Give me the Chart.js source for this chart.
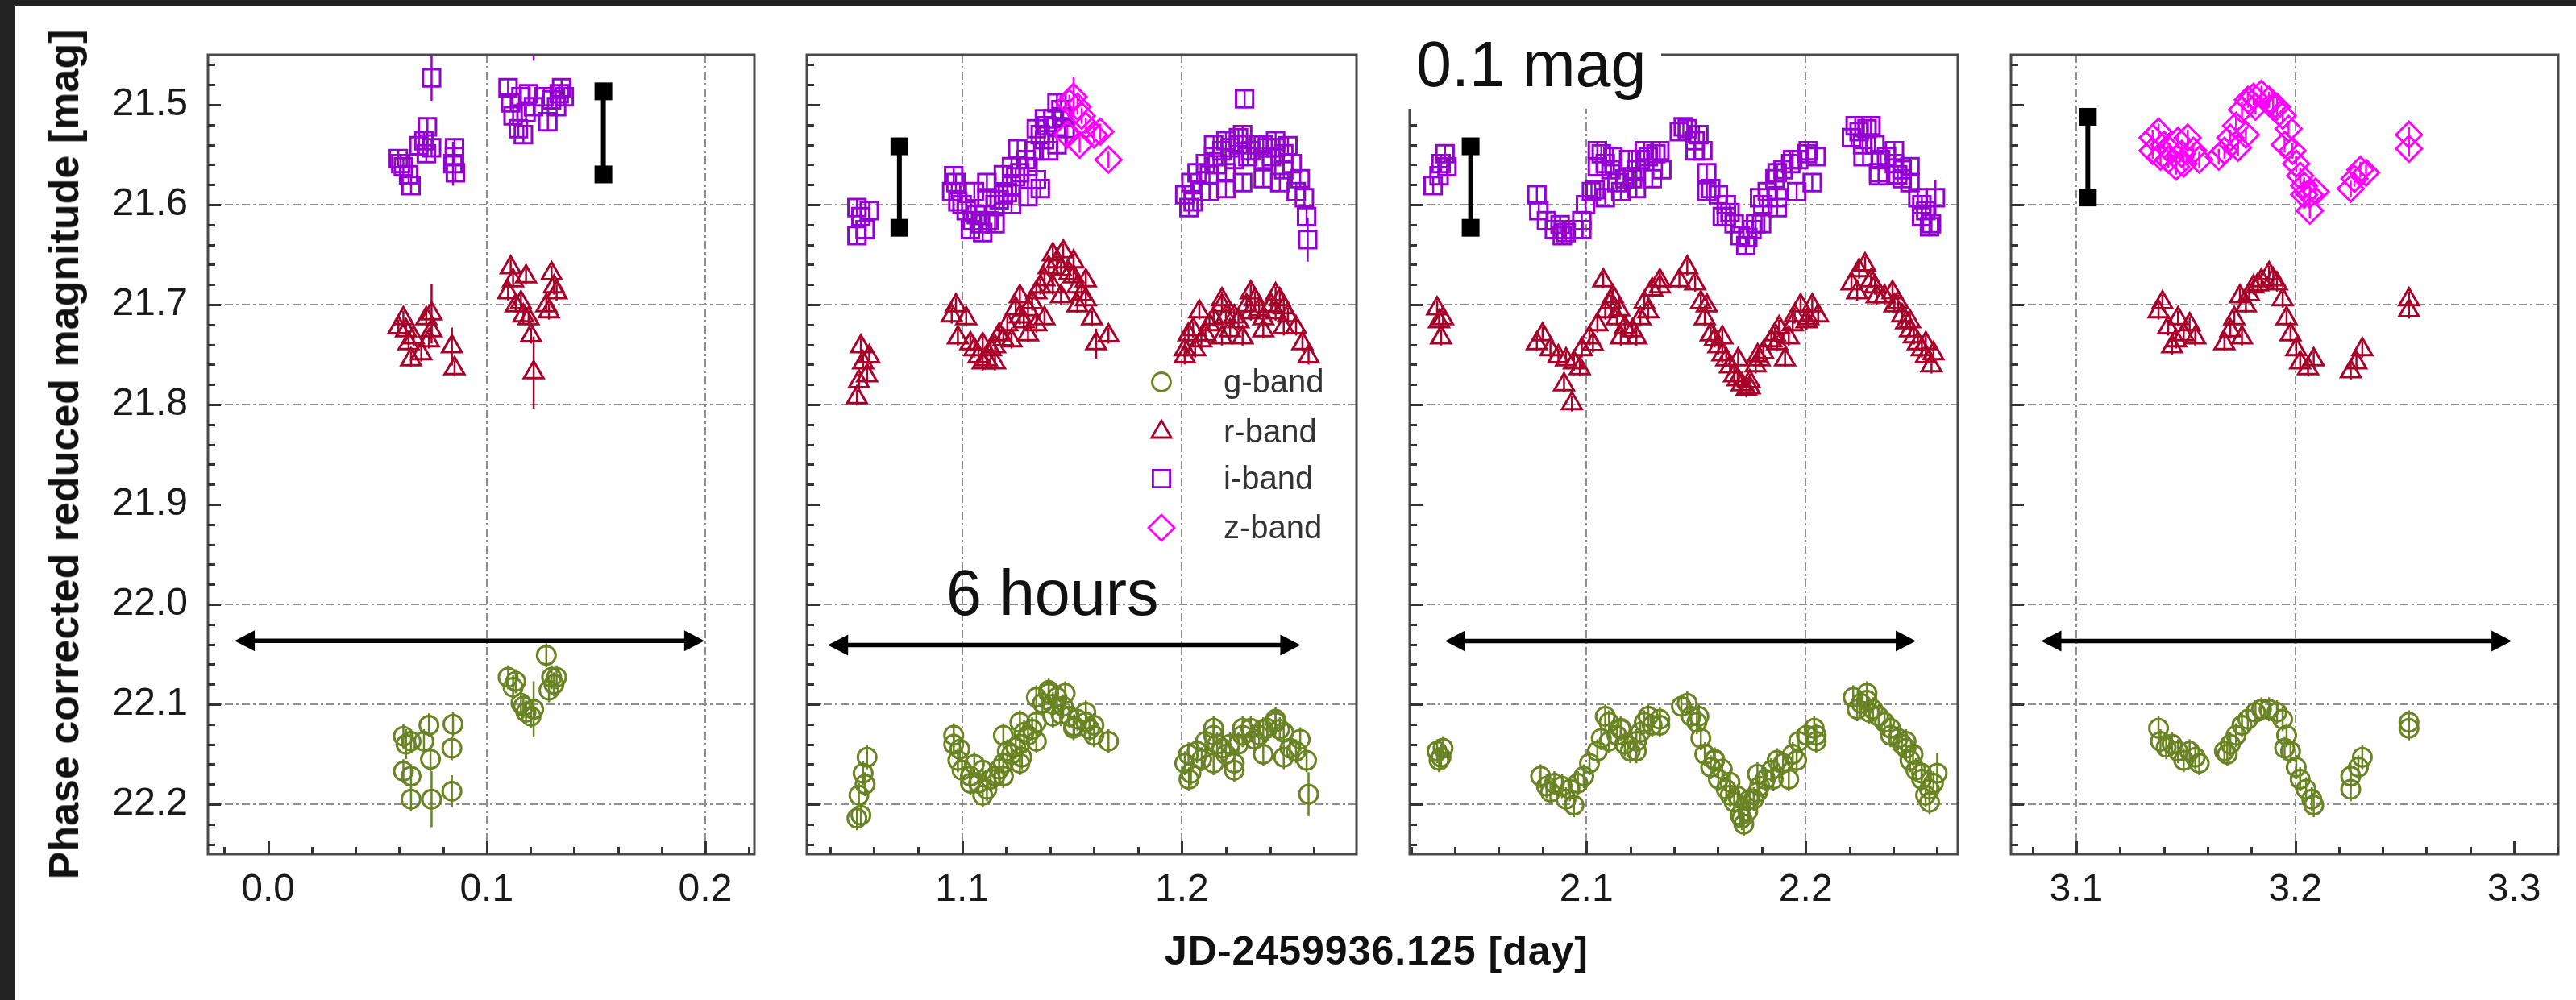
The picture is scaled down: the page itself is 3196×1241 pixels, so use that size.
<!DOCTYPE html>
<html>
<head>
<meta charset="utf-8">
<script src="https://cdn.jsdelivr.net/npm/chart.js@4.4.0/dist/chart.umd.min.js"></script>
<style>
  body { margin: 0; background: #fff; }
  #fig { position: relative; width: 3196px; height: 1241px; background: #fff; overflow: hidden; font-family: "Liberation Sans", Arial, sans-serif; color: #111; }
  #fig canvas { position: absolute; top: 0; }
  .edge-top { position: absolute; left: 0; top: 0; width: 3196px; height: 7px; background: #222; }
  .edge-left { position: absolute; left: 0; top: 0; width: 19px; height: 1241px; background: #222; }
  .ytitle { position: absolute; left: 79px; top: 564px; transform: translate(-50%, -50%) rotate(-90deg); white-space: nowrap; font-weight: bold; font-size: 52px; line-height: 1; }
  .xtitle { position: absolute; left: 1708px; top: 1180px; transform: translate(-50%, -50%); white-space: nowrap; font-weight: bold; font-size: 50px; line-height: 1; letter-spacing: 1px; }
  .note { position: absolute; white-space: nowrap; font-size: 79px; line-height: 79px; }
  .magbox { position: absolute; left: 1740px; top: 8px; width: 321px; height: 127px; background: #fff; }
</style>
</head>
<body>
<div id="fig">
  <canvas id="panel1" width="940" height="1241" style="left:20px"></canvas>
  <canvas id="panel2" width="730" height="1241" style="left:975px"></canvas>
  <canvas id="panel3" width="725" height="1241" style="left:1725px"></canvas>
  <canvas id="panel4" width="726" height="1241" style="left:2470px"></canvas>
  <div class="ytitle">Phase corrected reduced magnitude [mag]</div>
  <div class="xtitle">JD-2459936.125 [day]</div>
  <div class="note" style="left:1174px; top:696px">6 hours</div>
  <div class="magbox"></div>
  <div class="note" style="left:1757px; top:40px">0.1 mag</div>
  <div class="edge-top"></div>
  <div class="edge-left"></div>
</div>
<script>
// ---- datos: [dia, magnitud, error opcional] ----
const gBand1 = [
  [0.0619,22.132],[0.0631,22.140,0.015],[0.0654,22.137],[0.0619,22.167],[0.0654,22.172],[0.0654,22.195],[0.0713,22.137],
  [0.0736,22.121],[0.0743,22.155],[0.0748,22.195,0.028],[0.0846,22.120],[0.0841,22.144],[0.0841,22.187,0.016],
  [0.1098,22.073],[0.1121,22.083],[0.1133,22.077],[0.1157,22.099],[0.1180,22.108],[0.1203,22.112],[0.1168,22.102],[0.1215,22.105,0.028],
  [0.1273,22.051],[0.1297,22.073],[0.1308,22.080],[0.1320,22.073],[0.1285,22.086]
];
const rBand1 = [
  [0.0619,21.714],[0.0631,21.726],[0.0643,21.739],[0.0654,21.755],[0.0596,21.723],[0.0666,21.733],
  [0.0701,21.749],[0.0724,21.714],[0.0748,21.709,0.03],[0.0748,21.726],[0.0736,21.736],
  [0.0841,21.742,0.019],[0.0853,21.764],
  [0.1110,21.663],[0.1121,21.676],[0.1098,21.688],[0.1133,21.701],[0.1157,21.698],[0.1168,21.711],[0.1180,21.672],[0.1192,21.714],
  [0.1203,21.731],[0.1215,21.768,0.036],
  [0.1297,21.669],[0.1308,21.682],[0.1285,21.707],[0.1320,21.688],[0.1273,21.701]
];
const iBand1 = [
  [0.0596,21.554],[0.0619,21.562],[0.0643,21.570],[0.0654,21.581],[0.0607,21.559],
  [0.0729,21.522],[0.0713,21.536],[0.0748,21.543],[0.0724,21.549],[0.0690,21.541],
  [0.0748,21.473,0.023],
  [0.0853,21.543],[0.0846,21.559,0.022],[0.0857,21.568],[0.0853,21.552],
  [0.1098,21.483],[0.1110,21.498],[0.1121,21.511],[0.1145,21.524],[0.1168,21.530],[0.1157,21.492],[0.1192,21.489],[0.1180,21.508],[0.1215,21.502],
  [0.1215,21.430,0.026],
  [0.1262,21.492],[0.1297,21.495],[0.1332,21.489],[0.1355,21.492],[0.1280,21.517],[0.1320,21.502],[0.1343,21.483]
];

const gBand2 = [
  [1.0522,22.214],[1.0531,22.191],[1.0550,22.169],[1.0568,22.153],[1.0540,22.211],[1.0559,22.180],
  [1.0962,22.140],[1.0981,22.156],[1.1000,22.166],[1.1038,22.172],[1.1075,22.179],[1.1113,22.185],[1.1150,22.172],[1.1188,22.159],
  [1.1225,22.150],[1.1263,22.140],[1.1272,22.153],[1.1300,22.131],[1.1338,22.118],[1.1366,22.099],[1.1394,22.089],[1.1432,22.093],
  [1.1460,22.102],[1.1488,22.112],[1.1525,22.115],[1.1563,22.118],[1.1600,22.121],[1.1666,22.137],[1.1094,22.166],[1.1206,22.147],
  [1.0990,22.145],[1.1056,22.160],[1.1130,22.175],[1.1169,22.165],[1.1244,22.143],[1.1282,22.128],[1.1319,22.125],[1.1413,22.100],
  [1.1450,22.110],[1.1510,22.122],[1.1580,22.125],
  [1.0962,22.131],[1.1188,22.131],[1.1263,22.118],[1.1338,22.093],[1.1394,22.086],[1.1469,22.089],[1.1563,22.108],
  [1.1038,22.179],[1.1094,22.191],[1.1188,22.172],[1.1263,22.159],[1.1338,22.137],[1.1413,22.112],[1.1507,22.124],[1.1600,22.131],
  [1.2013,22.159],[1.2041,22.169],[1.2069,22.147],[1.2107,22.137],[1.2144,22.131],[1.2182,22.144],[1.2219,22.140],[1.2238,22.159],
  [1.2276,22.131],[1.2313,22.124],[1.2351,22.131],[1.2388,22.124],[1.2426,22.118],[1.2463,22.128],[1.2491,22.144],[1.2519,22.147],
  [1.2567,22.156],[1.2576,22.190,0.022],[1.2030,22.150],[1.2090,22.155],[1.2160,22.140],[1.2200,22.150],[1.2257,22.140],[1.2330,22.135],
  [1.2370,22.125],[1.2445,22.125],[1.2538,22.135],
  [1.2144,22.124],[1.2276,22.124],[1.2426,22.115],[1.2032,22.175],[1.2144,22.159],[1.2238,22.166],[1.2370,22.150],[1.2463,22.153]
];
const rBand2 = [
  [1.0540,21.742],[1.0550,21.758],[1.0531,21.777],[1.0522,21.793],[1.0578,21.752],[1.0568,21.771],
  [1.0953,21.711],[1.0972,21.701],[1.0981,21.733],[1.1019,21.714],[1.1038,21.739],[1.1075,21.752],[1.1113,21.755],[1.1150,21.742],
  [1.1169,21.730],[1.1206,21.720],[1.1244,21.704],[1.1281,21.717],[1.1319,21.698],[1.1356,21.682],[1.1394,21.663],[1.1432,21.657],
  [1.1460,21.647],[1.1488,21.669],[1.1525,21.682],[1.1563,21.695],[1.1591,21.714],[1.1610,21.739,0.015],[1.1666,21.731],[1.1338,21.720],
  [1.1413,21.682],[1.1056,21.745],[1.1094,21.740],[1.1131,21.745],[1.1188,21.735],[1.1263,21.712],[1.1300,21.705],[1.1375,21.675],
  [1.1450,21.665],[1.1507,21.672],[1.1544,21.690],
  [1.1263,21.692],[1.1338,21.688],[1.1413,21.650],[1.1507,21.657],[1.1563,21.676],
  [1.1094,21.758],[1.1150,21.758],[1.1225,21.736],[1.1300,21.730],[1.1375,21.714],[1.1450,21.692],[1.1525,21.701],
  [1.2013,21.745],[1.2051,21.725],[1.2079,21.707],[1.2107,21.730],[1.2144,21.714],[1.2182,21.701],[1.2219,21.726],[1.2257,21.717],
  [1.2294,21.701],[1.2332,21.695],[1.2370,21.714],[1.2407,21.701],[1.2445,21.695],[1.2482,21.711],[1.2519,21.723],[1.2548,21.739],
  [1.2576,21.752],[1.2060,21.745],[1.2030,21.730],[1.2125,21.720],[1.2200,21.712],[1.2238,21.712],[1.2313,21.708],[1.2351,21.705],
  [1.2426,21.708],[1.2463,21.703],
  [1.2182,21.695],[1.2313,21.688],[1.2426,21.690],[1.2013,21.752],[1.2088,21.736],[1.2182,21.733],[1.2276,21.733],[1.2370,21.726],
  [1.2463,21.723]
];
const iBand2 = [
  [1.0522,21.603],[1.0540,21.612],[1.0522,21.631],[1.0578,21.606],[1.0559,21.625],
  [1.0953,21.587],[1.0972,21.578],[1.0981,21.597],[1.1019,21.606],[1.1047,21.616],[1.1084,21.619],[1.1122,21.616],[1.1150,21.600],
  [1.1188,21.590],[1.1225,21.581],[1.1263,21.568],[1.1291,21.555],[1.1328,21.546],[1.1356,21.530],[1.1385,21.521],[1.1413,21.514],
  [1.1450,21.505],[1.1469,21.524],[1.1338,21.575],[1.1225,21.562],[1.1113,21.593],[1.1000,21.600],[1.1065,21.610],[1.1169,21.595],
  [1.1206,21.588],[1.1244,21.572],[1.1300,21.562],[1.1375,21.535],[1.1430,21.522],[1.1460,21.512],
  [1.0962,21.571],[1.1056,21.587],[1.1113,21.578],[1.1188,21.570],[1.1253,21.544],[1.1338,21.524],[1.1375,21.514],[1.1432,21.498],
  [1.1038,21.625],[1.1094,21.628],[1.1150,21.619],[1.1225,21.600],[1.1300,21.592],[1.1356,21.584],[1.1394,21.546],[1.1432,21.540],
  [1.2013,21.590],[1.2041,21.578],[1.2069,21.568],[1.2107,21.559],[1.2144,21.552],[1.2182,21.546],[1.2219,21.543],[1.2257,21.540],
  [1.2276,21.530],[1.2285,21.494],[1.2313,21.546],[1.2351,21.540],[1.2388,21.543],[1.2426,21.543],[1.2463,21.549],[1.2501,21.559],
  [1.2538,21.574],[1.2557,21.593],[1.2567,21.612],[1.2572,21.635,0.022],[1.2032,21.603],[1.2088,21.587],[1.2200,21.568],[1.2370,21.555],
  [1.2463,21.565],[1.2125,21.570],[1.2160,21.560],[1.2238,21.555],[1.2300,21.552],[1.2407,21.552],
  [1.2144,21.540],[1.2200,21.536],[1.2257,21.533],[1.2370,21.540],[1.2426,21.536],[1.2482,21.541],
  [1.2051,21.597],[1.2126,21.587],[1.2200,21.584],[1.2276,21.578],[1.2370,21.574],[1.2445,21.578],[1.2520,21.587]
];
const zBand2 = [
  [1.1488,21.498],[1.1507,21.492,0.02],[1.1525,21.502],[1.1544,21.511],[1.1563,21.521],[1.1600,21.530],[1.1478,21.530],
  [1.1535,21.540],[1.1629,21.527],[1.1666,21.555]
];

const gBand3 = [
  [2.0319,22.147],[2.0328,22.156],[2.0346,22.144],[2.0337,22.153],
  [2.0791,22.172],[2.0818,22.182],[2.0854,22.179],[2.0889,22.182],[2.0925,22.185],[2.0943,22.201],[2.0961,22.179],[2.0988,22.172],
  [2.1014,22.159],[2.1050,22.147],[2.1068,22.134],[2.1086,22.112],[2.1103,22.118],[2.1139,22.131],[2.1175,22.140],[2.1200,22.147],
  [2.1228,22.137],[2.1264,22.118],[2.1300,22.121],[2.1335,22.121],[2.1103,22.137],[2.1157,22.125],[2.1246,22.128],[2.1282,22.112],
  [2.0836,22.188],[2.0907,22.195],[2.1157,22.124],[2.1228,22.147],[2.1335,22.115],
  [2.1433,22.102],[2.1460,22.099],[2.1478,22.112],[2.1504,22.118],[2.1522,22.134],[2.1540,22.150],[2.1567,22.163],[2.1602,22.175],
  [2.1638,22.185],[2.1674,22.198],[2.1701,22.211],[2.1718,22.220],[2.1736,22.207],[2.1763,22.195],[2.1790,22.182],[2.1816,22.175],
  [2.1843,22.166],[2.1870,22.156],[2.1897,22.159],[2.1923,22.175],[2.1941,22.150],[2.1968,22.137],[2.2004,22.131],[2.2039,22.124],
  [2.2048,22.137],[2.1585,22.155],[2.1620,22.165],[2.1655,22.178],[2.1690,22.192],[2.1745,22.195],[2.1780,22.170],
  [2.1513,22.112],[2.1585,22.156],[2.1656,22.191],[2.1709,22.214],[2.1781,22.188],[2.1852,22.175],[2.1959,22.156],[2.2048,22.131],
  [2.2217,22.093],[2.2253,22.099],[2.2280,22.096],[2.2307,22.105],[2.2333,22.112],[2.2360,22.118],[2.2387,22.124],[2.2422,22.134],
  [2.2458,22.144],[2.2476,22.156],[2.2503,22.166],[2.2529,22.175],[2.2547,22.191],[2.2565,22.198],[2.2583,22.179],[2.2600,22.169,0.02],
  [2.2235,22.105],[2.2290,22.108],[2.2440,22.140],[2.2490,22.150],
  [2.2280,22.089],[2.2387,22.131],[2.2458,22.137],[2.2529,22.169],[2.2565,22.185]
];
const rBand3 = [
  [2.0319,21.704],[2.0328,21.717],[2.0337,21.733],[2.0346,21.714],
  [2.0774,21.739],[2.0800,21.730],[2.0836,21.745],[2.0872,21.752],[2.0907,21.755],[2.0943,21.758],[2.0970,21.764],[2.0898,21.780],
  [2.0934,21.799],[2.0979,21.745],[2.1014,21.733],[2.1050,21.720],[2.1077,21.676],[2.1086,21.707],[2.1112,21.698],[2.1139,21.714],
  [2.1175,21.723],[2.1210,21.726],[2.1246,21.714],[2.1264,21.698],[2.1300,21.685],[2.1335,21.682],[2.1282,21.707],[2.1030,21.740],
  [2.1150,21.705],[2.1157,21.733],[2.1228,21.733],[2.1121,21.692],[2.1335,21.676],
  [2.1424,21.676],[2.1460,21.663],[2.1496,21.679],[2.1522,21.698],[2.1540,21.714],[2.1567,21.730],[2.1602,21.742],[2.1638,21.755],
  [2.1674,21.771],[2.1709,21.780],[2.1745,21.777],[2.1772,21.761],[2.1807,21.748],[2.1843,21.736],[2.1879,21.723],[2.1906,21.755],
  [2.1923,21.733],[2.1950,21.711],[2.1977,21.701],[2.2004,21.717],[2.2030,21.701],[2.2057,21.711],[2.1585,21.735],[2.1620,21.750],
  [2.1655,21.762],[2.1690,21.775],[2.1730,21.785],[2.1790,21.755],[2.1860,21.730],
  [2.1549,21.701],[2.1620,21.733],[2.1692,21.755],[2.1745,21.783],[2.1781,21.751],[2.1870,21.739],[2.1941,21.720],[2.2012,21.714],
  [2.2209,21.679],[2.2244,21.666],[2.2271,21.660],[2.2298,21.676],[2.2324,21.692],[2.2360,21.692],[2.2396,21.688],[2.2422,21.698],
  [2.2440,21.711],[2.2476,21.726],[2.2512,21.739],[2.2548,21.752],[2.2574,21.761],[2.2583,21.749],[2.2235,21.688],[2.2458,21.718],
  [2.2494,21.732],[2.2530,21.745],
  [2.2316,21.682],[2.2405,21.701],[2.2476,21.717],[2.2548,21.739]
];
const iBand3 = [
  [2.0301,21.581],[2.0328,21.571],[2.0337,21.559],[2.0355,21.549],[2.0364,21.562],
  [2.0774,21.590],[2.0783,21.606],[2.0818,21.616],[2.0854,21.625],[2.0907,21.628],[2.0943,21.625],[2.0979,21.616],[2.0996,21.600],
  [2.1023,21.587],[2.1050,21.562],[2.1068,21.549],[2.1086,21.559],[2.1112,21.565],[2.1139,21.578],[2.1175,21.574],[2.1210,21.574],
  [2.1246,21.555],[2.1282,21.552],[2.1317,21.549],[2.1344,21.565],[2.0880,21.620],[2.1040,21.585],[2.1228,21.565],
  [2.1050,21.546],[2.1121,21.552],[2.1193,21.555],[2.1264,21.546],[2.1335,21.546],
  [2.0890,21.631],[2.0979,21.625],[2.1086,21.593],[2.1157,21.587],[2.1228,21.584],[2.1300,21.574],
  [2.1424,21.527],[2.1460,21.524],[2.1496,21.536],[2.1531,21.546],[2.1549,21.568],[2.1567,21.584],[2.1602,21.590],[2.1638,21.600],
  [2.1674,21.619],[2.1701,21.631],[2.1736,21.633],[2.1772,21.619],[2.1790,21.593],[2.1825,21.587],[2.1860,21.574],[2.1897,21.565],
  [2.1932,21.559],[2.1968,21.555],[2.2004,21.549],[2.2048,21.552],[2.1620,21.612],[2.1870,21.593],[2.1655,21.608],[2.1755,21.625],
  [2.1805,21.600],
  [2.1442,21.522],[2.1513,21.530],[2.1870,21.568],[2.1941,21.555],[2.2012,21.546],
  [2.1496,21.546],[2.1549,21.587],[2.1638,21.612],[2.1727,21.641],[2.1799,21.619],[2.1870,21.603],[2.1959,21.587],[2.2030,21.578],
  [2.2209,21.533],[2.2244,21.527],[2.2280,21.524],[2.2316,21.540],[2.2342,21.555],[2.2369,21.552],[2.2405,21.559],[2.2440,21.565],
  [2.2476,21.578],[2.2512,21.593],[2.2548,21.606],[2.2574,21.619],[2.2592,21.593,0.018],[2.2333,21.571],[2.2260,21.540],[2.2420,21.570],
  [2.2530,21.600],
  [2.2226,21.521],[2.2298,21.521],[2.2405,21.546],[2.2476,21.562],
  [2.2262,21.552],[2.2333,21.568],[2.2440,21.574],[2.2529,21.612],[2.2565,21.622]
];

const gBand4 = [
  [3.1376,22.124],[3.1385,22.137],[3.1411,22.143],[3.1438,22.140],[3.1465,22.147],[3.1491,22.156],[3.1518,22.147],[3.1544,22.153],
  [3.1562,22.159],
  [3.1677,22.147],[3.1704,22.140],[3.1730,22.131],[3.1757,22.121],[3.1784,22.115],[3.1819,22.108],[3.1846,22.105],[3.1881,22.105],
  [3.1917,22.108],[3.1943,22.115],[3.1961,22.131],[3.1979,22.147],[3.2005,22.163],[3.2023,22.175],[3.2050,22.185],[3.2076,22.195],
  [3.2085,22.201],[3.1952,22.144],[3.1690,22.150],
  [3.2254,22.185],[3.2254,22.172],[3.2289,22.163],[3.2307,22.153],
  [3.2520,22.118],[3.2520,22.124]
];
const rBand4 = [
  [3.1376,21.707],[3.1394,21.698],[3.1420,21.723],[3.1438,21.742],[3.1465,21.714],[3.1491,21.730],[3.1518,21.720],[3.1544,21.733],
  [3.1456,21.736],
  [3.1677,21.739],[3.1704,21.726],[3.1722,21.714],[3.1748,21.692],[3.1775,21.701],[3.1810,21.682],[3.1846,21.676],[3.1881,21.669],
  [3.1917,21.679],[3.1943,21.695],[3.1961,21.714],[3.1979,21.730],[3.2005,21.745],[3.2023,21.758],[3.2059,21.764],[3.2085,21.755],
  [3.1757,21.733],[3.1790,21.690],[3.1830,21.680],[3.1900,21.675],
  [3.2254,21.767],[3.2280,21.758],[3.2307,21.745],
  [3.2520,21.695],[3.2520,21.706]
];
const zBand4 = [
  [3.1349,21.533],[3.1376,21.527],[3.1402,21.540],[3.1385,21.552],[3.1429,21.546],[3.1456,21.562],[3.1482,21.549],[3.1509,21.533],
  [3.1535,21.546],[3.1562,21.555],[3.1465,21.536],[3.1349,21.546],[3.1420,21.555],[3.1491,21.559],
  [3.1651,21.552],[3.1677,21.546],[3.1704,21.533],[3.1730,21.521],[3.1757,21.505],[3.1784,21.495],[3.1810,21.492],[3.1846,21.489],
  [3.1881,21.495],[3.1917,21.502],[3.1943,21.511],[3.1970,21.524],[3.1952,21.540],[3.1988,21.546],[3.2005,21.559],[3.2023,21.571],
  [3.2041,21.581],[3.2067,21.590],[3.2094,21.587],[3.2067,21.606],[3.1775,21.530],[3.1739,21.543],
  [3.1819,21.502],[3.1899,21.502],[3.2041,21.590],
  [3.2254,21.584],[3.2271,21.574],[3.2298,21.565],[3.2324,21.568],
  [3.2520,21.530],[3.2520,21.544]
];

// ejes y marcas
const xMins = [-0.0275, 1.0294, 2.0194, 3.0702];
const xMaxs = [0.2225, 1.2794, 2.2694, 3.3202];
const magMin = 21.45;
const magMax = 22.25;
const magTicks = [21.5, 21.6, 21.7, 21.8, 21.9, 22.0, 22.1, 22.2];
const dayTicks = [[0.0, 0.1, 0.2], [1.1, 1.2], [2.1, 2.2], [3.1, 3.2, 3.3]];
// valores con etiqueta pero sin linea de rejilla en el original
const magNoGrid = [21.5, 21.9];
const dayNoGrid = [0.0, 3.3];

// barras de escala "0.1 mag" y flechas "6 hours"
const scaleBarDay = [0.1534, 1.0715, 2.0472, 3.1053];
const scaleBarTop = [21.4777, 21.5327, 21.5327, 21.5032];
const scaleBarBottom = [21.5786, 21.6320, 21.6320, 21.6017];
const arrowStart = [-0.0153, 1.0390, 2.0355, 3.0840];
const arrowEnd = [0.1996, 1.2539, 2.2503, 3.2989];
const arrowMag = [22.0364, 22.0408, 22.0366, 22.0366];

const legendLabels = ["g-band", "r-band", "i-band", "z-band"];

// ---- estilos ----
const bandStyle = {
  g: { color: "#6a8423", shape: "circle", radius: 11.5, err: 0.012 },
  r: { color: "#a8002a", shape: "triangle", radius: 14, err: 0.008 },
  i: { color: "#9400d3", shape: "rect", radius: 15, err: 0.008 },
  z: { color: "#ff00ff", shape: "rectRot", radius: 16, err: 0.008 },
};
const legendKeys = ["g", "r", "i", "z"];

// canvas: ancho del eje y fijo y margen derecho para alinear las areas de trazado
const panelBoxes = [
  { axisWidth: 238, padRight: 24 },
  { axisWidth: 26, padRight: 22 },
  { axisWidth: 24, padRight: 21 },
  { axisWidth: 25, padRight: 22 },
];

Chart.defaults.font.family = "'Liberation Sans', Arial, sans-serif";

const drawMarker = (ctx, shape, r, cx, cy) => {
  ctx.beginPath();
  if (shape === "circle") {
    ctx.arc(cx, cy, r, 0, Math.PI * 2);
  } else if (shape === "triangle") {
    ctx.moveTo(cx, cy - r);
    ctx.lineTo(cx + r * 0.866, cy + r / 2);
    ctx.lineTo(cx - r * 0.866, cy + r / 2);
    ctx.closePath();
  } else if (shape === "rect") {
    const s = r * Math.SQRT1_2;
    ctx.rect(cx - s, cy - s, 2 * s, 2 * s);
  } else {
    ctx.moveTo(cx - r, cy);
    ctx.lineTo(cx, cy - r);
    ctx.lineTo(cx + r, cy);
    ctx.lineTo(cx, cy + r);
    ctx.closePath();
  }
  ctx.stroke();
};

const decor = {
  id: "decor",
  beforeDatasetsDraw(chart) {
    // barras de error
    const { ctx, chartArea: a, scales: { x, y } } = chart;
    ctx.save();
    ctx.beginPath();
    ctx.rect(a.left, a.top, a.width, a.height);
    ctx.clip();
    chart.data.datasets.forEach((ds) => {
      ctx.strokeStyle = ds.pointBorderColor;
      ctx.lineWidth = 2.5;
      ds.data.forEach((p) => {
        const px = x.getPixelForValue(p.x);
        ctx.beginPath();
        ctx.moveTo(px, y.getPixelForValue(p.y - p.e));
        ctx.lineTo(px, y.getPixelForValue(p.y + p.e));
        ctx.stroke();
      });
    });
    ctx.restore();
  },
  afterDraw(chart) {
    const { ctx, chartArea: a, scales: { x, y } } = chart;
    const opts = chart.options.plugins.decor;
    const idx = opts.idx;
    ctx.save();

    // marco
    ctx.strokeStyle = "#4a4a4a";
    ctx.lineWidth = 3;
    ctx.strokeRect(a.left, a.top, a.width, a.height);

    // marcas hacia dentro cada 0.02
    ctx.strokeStyle = "#333";
    ctx.lineWidth = 3;
    const step = 0.02;
    for (let k = Math.ceil(magMin / step - 1e-6); k <= Math.floor(magMax / step + 1e-6); k++) {
      const py = Math.round(y.getPixelForValue(k * step)) + 0.5;
      const len = k % 5 === 0 ? 16 : 9;
      ctx.beginPath();
      ctx.moveTo(a.left, py);
      ctx.lineTo(a.left + len, py);
      ctx.stroke();
    }
    for (let k = Math.ceil(x.min / step - 1e-6); k <= Math.floor(x.max / step + 1e-6); k++) {
      const px = Math.round(x.getPixelForValue(k * step)) + 0.5;
      const len = k % 5 === 0 ? 16 : 9;
      ctx.beginPath();
      ctx.moveTo(px, a.bottom);
      ctx.lineTo(px, a.bottom - len);
      ctx.stroke();
    }

    // barra de escala 0.1 mag
    ctx.fillStyle = "#000";
    ctx.strokeStyle = "#000";
    const bx = x.getPixelForValue(scaleBarDay[idx]);
    const bt = y.getPixelForValue(scaleBarTop[idx]);
    const bb = y.getPixelForValue(scaleBarBottom[idx]);
    ctx.lineWidth = 6;
    ctx.beginPath();
    ctx.moveTo(bx, bt + 11);
    ctx.lineTo(bx, bb - 11);
    ctx.stroke();
    ctx.fillRect(bx - 11, bt, 22, 22);
    ctx.fillRect(bx - 11, bb - 22, 22, 22);

    // flecha doble
    const x1 = x.getPixelForValue(arrowStart[idx]);
    const x2 = x.getPixelForValue(arrowEnd[idx]);
    const ay = y.getPixelForValue(arrowMag[idx]);
    ctx.lineWidth = 5.5;
    ctx.beginPath();
    ctx.moveTo(x1 + 20, ay);
    ctx.lineTo(x2 - 20, ay);
    ctx.stroke();
    ctx.beginPath();
    ctx.moveTo(x1, ay);
    ctx.lineTo(x1 + 25, ay - 13);
    ctx.lineTo(x1 + 25, ay + 13);
    ctx.closePath();
    ctx.fill();
    ctx.beginPath();
    ctx.moveTo(x2, ay);
    ctx.lineTo(x2 - 25, ay - 13);
    ctx.lineTo(x2 - 25, ay + 13);
    ctx.closePath();
    ctx.fill();

    // leyenda (solo panel 2)
    if (opts.legend) {
      const rows = [406, 468, 526, 587];
      ctx.font = "40px 'Liberation Sans', Arial, sans-serif";
      ctx.textBaseline = "middle";
      ctx.textAlign = "left";
      legendKeys.forEach((key, n) => {
        const st = bandStyle[key];
        ctx.strokeStyle = st.color;
        ctx.lineWidth = 2.8;
        drawMarker(ctx, st.shape, st.radius, a.left + 440, a.top + rows[n]);
        ctx.fillStyle = "#333";
        ctx.fillText(legendLabels[n], a.left + 517, a.top + rows[n] + 2);
      });
    }
    ctx.restore();
  },
};

const makeDataset = (key, pts) => {
  const st = bandStyle[key];
  return {
    label: key + "-band",
    data: pts.map((p) => ({ x: p[0], y: p[1], e: p[2] !== undefined ? p[2] : st.err })),
    pointStyle: st.shape,
    pointRadius: st.radius,
    pointHoverRadius: st.radius,
    pointBorderColor: st.color,
    pointBackgroundColor: "rgba(0,0,0,0)",
    pointBorderWidth: 3,
    showLine: false,
  };
};

const onList = (list, v) => list.some((w) => Math.abs(w - v) < 1e-6);
const gridFor = (skip) => ({
  color: (c) => (c.tick && onList(skip, c.tick.value) ? "rgba(0,0,0,0)" : "#8e8e8e"),
  lineWidth: 2,
  drawTicks: false,
});
const borderStyle = { display: false, dash: [10, 4, 3, 4] };

const buildPanel = (canvasId, idx, datasets) => {
  const box = panelBoxes[idx];
  new Chart(document.getElementById(canvasId), {
    type: "scatter",
    data: { datasets: datasets },
    options: {
      responsive: false,
      animation: false,
      layout: { padding: { top: 68, right: box.padRight, left: 0, bottom: 0 } },
      plugins: {
        legend: { display: false },
        tooltip: { enabled: false },
        decor: { idx: idx, legend: idx === 1 },
      },
      scales: {
        x: {
          type: "linear",
          min: xMins[idx],
          max: xMaxs[idx],
          afterBuildTicks: (scale) => { scale.ticks = dayTicks[idx].map((v) => ({ value: v })); },
          afterFit: (scale) => { scale.height = 181; },
          ticks: {
            autoSkip: false,
            maxRotation: 0,
            padding: 16,
            color: "#1a1a1a",
            font: { size: 48 },
            callback: (v) => Number(v).toFixed(1),
          },
          grid: gridFor(dayNoGrid),
          border: borderStyle,
        },
        y: {
          type: "linear",
          reverse: true,
          min: magMin,
          max: magMax,
          afterBuildTicks: (scale) => { scale.ticks = magTicks.map((v) => ({ value: v })); },
          afterFit: (scale) => { scale.width = box.axisWidth; },
          ticks: {
            display: idx === 0,
            padding: 25,
            color: "#1a1a1a",
            font: { size: 48 },
            callback: (v) => Number(v).toFixed(1),
          },
          grid: gridFor(magNoGrid),
          border: borderStyle,
        },
      },
    },
    plugins: [decor],
  });
};

// el primer dataset se dibuja encima
buildPanel("panel1", 0, [makeDataset("i", iBand1), makeDataset("r", rBand1), makeDataset("g", gBand1)]);
buildPanel("panel2", 1, [makeDataset("z", zBand2), makeDataset("i", iBand2), makeDataset("r", rBand2), makeDataset("g", gBand2)]);
buildPanel("panel3", 2, [makeDataset("i", iBand3), makeDataset("r", rBand3), makeDataset("g", gBand3)]);
buildPanel("panel4", 3, [makeDataset("z", zBand4), makeDataset("r", rBand4), makeDataset("g", gBand4)]);
</script>
</body>
</html>
